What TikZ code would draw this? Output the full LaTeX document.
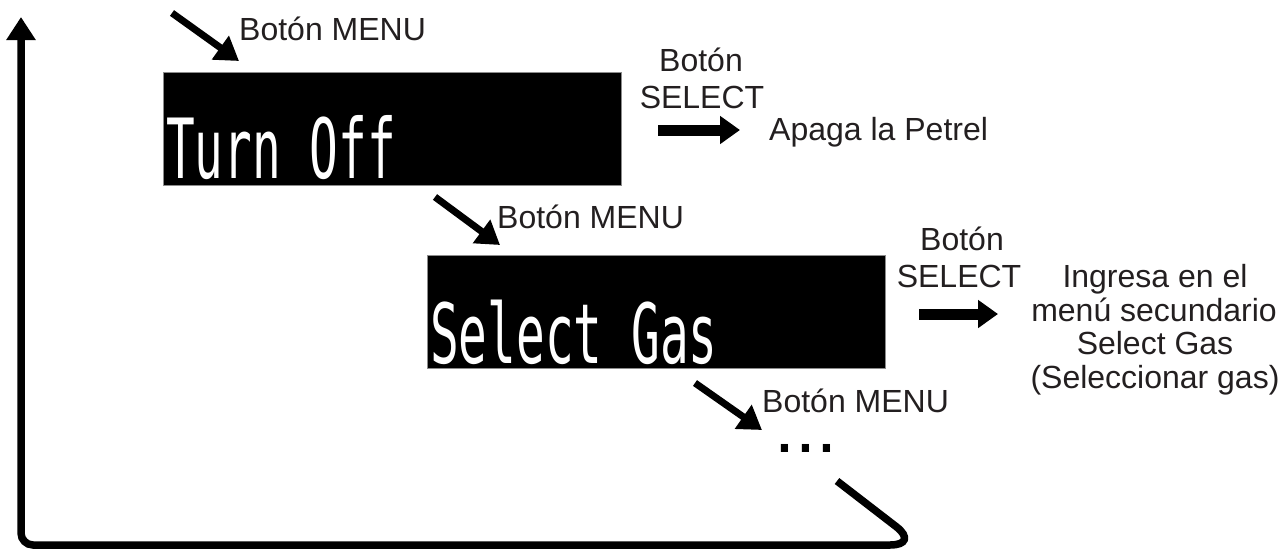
\documentclass[tikz,border=0pt]{standalone}
\usepackage{fontspec}
\usepackage{graphicx}
\setmainfont{Liberation Sans}
\newfontfamily\lcdfont{DejaVu Sans Mono}
\usetikzlibrary{arrows.meta}
\definecolor{txt}{HTML}{231F20}
\tikzset{
  lcdbox/.style={fill=black, draw=black!45, line width=0.8pt, minimum width=458pt, minimum height=113pt, inner sep=0pt, outer sep=0pt},
  lcdtext/.style={anchor=base west, inner sep=0pt, text=white, font=\lcdfont\fontsize{83}{83}\selectfont},
  lbl/.style={inner sep=0pt, text=txt, font=\fontsize{32}{37}\selectfont},
  menuarrow/.style={line width=7pt, -{Triangle[length=23pt,width=28pt]}},
  selarrow/.style={line width=11pt, -{Triangle[length=20pt,width=27pt]}},
  retline/.style={line width=7.5pt, -{Triangle[length=23pt,width=28pt]}}
}
\begin{document}
\begin{tikzpicture}[x=1pt,y=-1pt]
\useasboundingbox (0,0) rectangle (1284,550);
% boxes
\node[lcdbox] (box1) at (392,128.5) {};
\node[lcdbox] (box2) at (656,311.5) {};
\node[lcdtext] (t1) at (166,178) {\scalebox{0.575}[1]{Turn Off}};
\node[lcdtext] (t2) at (430,363) {\scalebox{0.575}[1]{Select Gas}};
% MENU arrows
\coordinate (m1s) at (172,13);  \coordinate (m1e) at (239,61);
\coordinate (m2s) at (435,197); \coordinate (m2e) at (500,245);
\coordinate (m3s) at (695,383); \coordinate (m3e) at (762,430);
\draw[menuarrow] (m1s) -- (m1e);
\draw[menuarrow] (m2s) -- (m2e);
\draw[menuarrow] (m3s) -- (m3e);
\node[lbl, anchor=base west] (lm1) at (239,40) {Botón MENU};
\node[lbl, anchor=base west] (lm2) at (497,228) {Botón MENU};
\node[lbl, anchor=base west] (lm3) at (762,412) {Botón MENU};
% SELECT 1
\node[lbl, anchor=base] (s1a) at (701,71) {Botón};
\node[lbl, anchor=base] (s1b) at (702,108) {SELECT};
\coordinate (a1s) at (658,130); \coordinate (a1e) at (740,130);
\draw[selarrow] (a1s) -- (a1e);
\node[lbl, anchor=base west] (r1) at (769,140) {Apaga la Petrel};
% SELECT 2
\node[lbl, anchor=base] (s2a) at (962,250) {Botón};
\node[lbl, anchor=base] (s2b) at (959,287) {SELECT};
\coordinate (a2s) at (919,314); \coordinate (a2e) at (998,314);
\draw[selarrow] (a2s) -- (a2e);
\node[lbl, anchor=base] (r2a) at (1155,287) {Ingresa en el};
\node[lbl, anchor=base] (r2b) at (1154,321) {menú secundario};
\node[lbl, anchor=base] (r2c) at (1155,354) {Select Gas};
\node[lbl, anchor=base] (r2d) at (1155,388) {(Seleccionar gas)};
% dots
\node[anchor=base west, inner sep=0pt, text=black, font=\fontsize{32}{32}\selectfont] (dots) at (774,452) {\scalebox{2.35}{...}};
% return line
\coordinate (rs) at (837,481);
\coordinate (rt) at (920,545);
\coordinate (rc) at (21,545);
\coordinate (re) at (21,17);
\draw[retline] (rs) [rounded corners=30pt] -- (rt) [rounded corners=12pt] -- (rc) [sharp corners] -- (re);
\end{tikzpicture}
\end{document}
